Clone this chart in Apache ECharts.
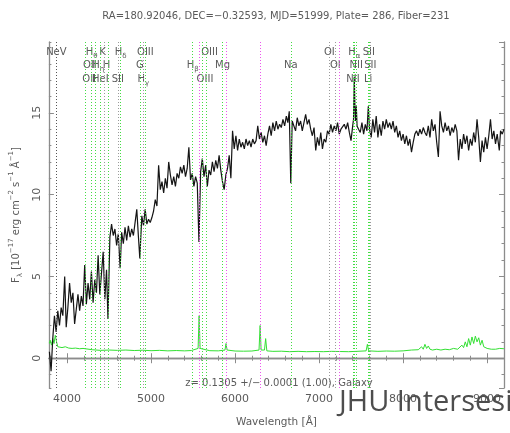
<!DOCTYPE html>
<html><head><meta charset="utf-8">
<script src="https://cdn.jsdelivr.net/npm/echarts@6/dist/echarts.min.js"></script>
<style>html,body{margin:0;padding:0;background:#fff}#c{width:510px;height:433px}</style>
</head><body><div id="c"></div>
<script>
const titleText = 'RA=180.92046, DEC=\u22120.32593, MJD=51999, Plate= 286, Fiber=231';
const redshiftText = 'z= 0.1305 +/\u2212 0.0001 (1.00), Galaxy';
const watermarkText = 'JHU Intersesion';
const xAxisName = 'Wavelength [\u00c5]';
const yAxisName = '{n|F}{s|\u03bb}{n| [10}{p|\u221217}{n| erg cm}{p|\u22122}{n| s}{p|\u22121}{n| \u00c5}{p|\u22121}{n|]}';
const redshift = 0.1305;
const waveMin = 3784, waveMax = 9201;
const fluxMin = -1.82, fluxMax = 19.33;

const wavelength = [3790,3810,3830,3850,3870,3890,3910,3930,3950,3972,3990,4010,4030,4050,4070,4090,4110,4130,4150,4170,4190,4210,4230,4250,4270,4290,4310,4330,4350,4370,4390,4410,4430,4450,4470,4487,4510,4530,4550,4570,4590,4610,4632,4650,4670,4690,4710,4730,4750,4770,4790,4810,4830,4850,4866,4890,4910,4930,4950,4970,4990,5010,5030,5050,5070,5090,5110,5130,5150,5170,5190,5210,5230,5250,5270,5290,5310,5330,5350,5370,5390,5410,5430,5450,5470,5490,5510,5530,5550,5570,5590,5610,5630,5650,5670,5690,5710,5730,5750,5770,5790,5810,5830,5850,5870,5890,5910,5930,5950,5970,5990,6010,6030,6050,6070,6090,6110,6130,6150,6170,6190,6210,6230,6250,6270,6290,6310,6330,6350,6370,6390,6410,6430,6450,6470,6490,6510,6530,6550,6570,6590,6610,6628,6645,6663,6680,6700,6720,6740,6760,6780,6800,6820,6840,6860,6880,6900,6920,6940,6960,6980,7000,7020,7040,7060,7080,7100,7120,7140,7160,7180,7200,7220,7240,7260,7280,7300,7320,7340,7360,7380,7400,7410,7419,7428,7435,7443,7452,7470,7490,7510,7530,7550,7570,7586,7600,7620,7640,7660,7680,7700,7720,7740,7760,7780,7800,7820,7840,7860,7880,7900,7920,7940,7960,7980,8000,8020,8040,8060,8080,8100,8120,8140,8160,8180,8200,8220,8240,8260,8280,8300,8320,8340,8360,8380,8400,8420,8440,8460,8480,8500,8520,8540,8560,8580,8600,8620,8640,8660,8680,8700,8720,8740,8760,8780,8800,8820,8840,8860,8880,8900,8920,8940,8960,8980,9000,9020,9040,9060,9080,9100,9120,9145,9160,9180,9200];
const flux = [0.4,-0.8,1.2,2.6,1.6,2.9,2.0,3.1,2.6,5.0,1.9,3.1,4.6,3.4,4.0,2.1,3.0,3.9,2.9,3.8,3.2,5.7,3.3,4.6,3.6,5.3,3.4,4.8,4.0,6.3,3.9,5.2,6.5,3.6,5.4,2.4,7.4,8.2,7.5,7.9,6.9,7.6,5.5,7.7,7.0,8.0,7.2,8.1,7.4,7.9,7.5,8.3,9.1,7.4,6.1,8.7,8.1,9.1,8.2,8.5,8.3,8.6,9.0,9.7,9.3,11.8,10.3,10.8,10.1,11.0,10.4,12.0,11.2,10.6,11.1,10.5,11.3,11.0,11.7,11.3,11.8,11.1,11.6,12.9,10.9,11.3,10.5,11.1,10.7,7.1,11.4,12.2,11.1,11.8,10.5,11.5,11.2,12.0,11.4,12.1,11.6,12.4,11.5,10.8,10.3,11.2,11.6,12.4,11.0,13.9,12.8,13.6,12.7,13.4,12.9,13.2,12.8,13.4,13.0,13.3,12.9,13.4,13.1,13.3,14.2,13.4,13.8,13.2,13.6,13.0,13.7,14.2,13.6,14.4,13.9,14.5,14.0,14.3,14.1,14.6,14.2,14.8,14.4,15.1,10.7,14.5,14.6,13.9,14.7,14.2,14.5,13.9,14.4,14.9,14.3,14.6,14.0,13.6,14.1,12.7,13.5,13.0,13.8,12.8,13.4,13.2,13.9,13.7,14.3,13.8,14.2,13.9,14.4,13.7,14.0,13.9,14.3,14.0,14.4,13.8,13.3,14.2,14.6,17.2,15.0,14.5,15.4,14.2,14.0,13.8,14.4,13.7,14.3,13.9,15.4,14.0,13.5,14.6,13.8,14.8,13.5,14.3,13.6,14.5,14.0,14.6,14.1,14.4,14.0,14.5,13.8,14.2,13.5,13.9,13.3,13.7,13.1,13.6,13.0,13.4,12.6,13.2,13.7,13.9,13.6,14.0,13.7,14.1,13.8,13.6,14.2,13.5,14.6,13.9,14.3,13.2,12.3,15.1,14.2,13.8,14.4,13.9,14.2,13.6,14.1,13.8,14.3,13.9,12.1,13.4,12.8,13.7,13.1,13.6,12.7,13.4,13.0,13.8,13.2,14.6,13.5,12.0,13.3,12.6,13.5,12.8,13.6,14.6,13.4,13.9,13.1,13.7,12.7,13.9,13.7,14.0];

const errWavelength = [3790,3800,3815,3830,3845,3860,3875,3890,3910,3940,3980,4020,4060,4100,4150,4190,4210,4300,4400,4500,4600,4700,4800,4900,5000,5100,5200,5300,5400,5480,5560,5572,5584,5600,5700,5800,5880,5892,5905,6000,6100,6200,6285,6298,6310,6350,6364,6378,6450,6550,6650,6750,6850,6950,7050,7150,7250,7350,7450,7560,7575,7590,7700,7800,7900,8000,8100,8180,8220,8240,8260,8280,8300,8320,8350,8400,8450,8500,8550,8600,8650,8700,8720,8740,8760,8780,8800,8820,8840,8860,8880,8900,8920,8940,8960,9000,9050,9100,9150,9200];
const errFlux = [0.9,1.1,0.8,1.2,0.9,1.4,1.0,0.7,0.75,0.65,0.7,0.62,0.6,0.62,0.58,0.6,0.5,0.52,0.48,0.5,0.48,0.5,0.47,0.49,0.46,0.48,0.45,0.47,0.45,0.47,0.6,2.6,0.6,0.48,0.46,0.45,0.5,0.9,0.5,0.44,0.43,0.44,0.5,2.0,0.5,0.5,1.2,0.45,0.42,0.43,0.4,0.42,0.4,0.41,0.4,0.42,0.41,0.4,0.42,0.45,0.85,0.45,0.42,0.44,0.43,0.45,0.5,0.52,0.7,0.55,0.85,0.6,0.75,0.55,0.5,0.55,0.5,0.55,0.52,0.6,0.55,0.8,0.65,1.0,0.7,1.2,0.8,1.3,0.9,1.35,1.0,1.25,0.8,1.1,0.7,0.6,0.55,0.55,0.6,0.58];

// spectral lines (rest wavelengths)
const lineNames = ['NeV','OII','OII','H{s|\u03b8}','H{s|\u03b7}','HeI','K','H','SII','H{s|\u03b4}','G','H{s|\u03b3}','OIII','H{s|\u03b2}','OIII','OIII','Mg','Na','OI','OI','NII','H{s|\u03b1}','NII','Li','SII','SII'];
const lineRest = [3425.9,3726.0,3728.8,3797.9,3835.4,3888.6,3933.7,3968.5,4072.3,4101.7,4304.4,4340.5,4363.2,4861.3,4958.9,5006.8,5175.3,5894.0,6300.3,6363.8,6548.1,6562.8,6583.4,6707.8,6716.4,6730.8];
const lineRow = [0,1,2,0,1,2,0,1,2,0,1,2,0,1,2,0,1,1,0,1,2,0,1,2,0,1];
const lineKind = ['n','e','e','e','e','e','a','e','a','e','e','a','e','e','e','e','e','e','a','a','e','e','e','e','e','a'];
const skyLines = [5577.3,5889.9,6300.3,7244.0];

const kindColor = {e:'#44dd44', a:'#9a9a9a', n:'#555555'};
const labelShift = {1:5, 2:4, 4:3, 6:-2, 7:-1.5, 14:3, 15:3};
const rowY = [10, 23, 37];
const G = {left:46, right:6, top:42, bottom:42};
const font = 'DejaVu Sans';
const txt = '#5a5a5a';
const frame = '#8c8c8c';

const fluxData = wavelength.map((w,i)=>[w, flux[i]]);
const errData = errWavelength.map((w,i)=>[w, errFlux[i]]);
const obs = lineRest.map(r => r*(1+redshift));

function wrap(name){
  return name.split(/(\{s\|[^}]*\})/).filter(Boolean).map(p => p.startsWith('{') ? p : '{n|'+p+'}').join('');
}
const rich = {
  n:{fontSize:10, fontFamily:font, lineHeight:16, verticalAlign:'middle', color:txt},
  s:{fontSize:7, fontFamily:font, verticalAlign:'bottom', color:txt},
  p:{fontSize:7, fontFamily:font, verticalAlign:'top', color:txt}
};
const plain = v => String(Math.round(v));

function xAx(pos, split, len, main){
  return {type:'value', position:pos, min:waveMin, max:waveMax, splitNumber:split,
    axisLine:{show:main, lineStyle:{color:frame, width:1.3}},
    axisTick:{show:true, inside:true, length:len, lineStyle:{color:frame, width:1}},
    axisLabel:{show:main && pos==='bottom', margin:6, fontSize:11, fontFamily:font, color:txt, showMinLabel:false, showMaxLabel:false, formatter:plain},
    splitLine:{show:false},
    name: (main && pos==='bottom') ? xAxisName : '', nameLocation:'middle', nameGap:29,
    nameTextStyle:{fontSize:10.5, fontFamily:font, color:txt}};
}
function yAx(pos, split, len, main){
  return {type:'value', position:pos, min:fluxMin, max:fluxMax, splitNumber:split,
    axisLine:{show:main, lineStyle:{color:frame, width:1.3}},
    axisTick:{show:true, inside:true, length:len, lineStyle:{color:frame, width:1}},
    axisLabel:{show:main && pos==='left', rotate:90, margin:6, fontSize:11, fontFamily:font, color:txt, showMinLabel:false, showMaxLabel:false, formatter:plain},
    splitLine:{show:false},
    name: (main && pos==='left') ? yAxisName : '', nameLocation:'middle', nameGap:22, nameRotate:90,
    nameTextStyle:{fontSize:10, fontFamily:font, color:txt, rich:rich}};
}

const chart = echarts.init(document.getElementById('c'), null, {renderer:'canvas'});
const markData = obs.map((w,i)=>({xAxis:w, lineStyle:{color:kindColor[lineKind[i]]}}))
  .concat(skyLines.map(w=>({xAxis:w, lineStyle:{color:'#ee55ee'}})));

chart.setOption({
  animation:false,
  backgroundColor:'#ffffff',
  grid:{left:G.left, right:G.right, top:G.top, bottom:G.bottom, containLabel:false},
  xAxis:[xAx('bottom',5,5,true), xAx('bottom',27,2.5,false), xAx('top',5,5,true), xAx('top',27,2.5,false)],
  yAxis:[yAx('left',4,5,true), yAx('left',21,2.5,false), yAx('right',4,5,true), yAx('right',21,2.5,false)],
  series:[
    {type:'line', xAxisIndex:0, yAxisIndex:0, data:[], silent:true,
     markLine:{silent:true, symbol:['none','none'], label:{show:false},
       lineStyle:{type:[1,2], width:1}, data:markData}, z:1},
    {type:'line', xAxisIndex:0, yAxisIndex:0, data:errData, showSymbol:false, silent:true,
     lineStyle:{color:'#33e033', width:1}, z:2},
    {type:'line', xAxisIndex:0, yAxisIndex:0, data:fluxData, showSymbol:false, silent:true,
     lineStyle:{color:'#151515', width:1.2}, z:3},
    {type:'custom', xAxisIndex:0, yAxisIndex:0, silent:true, z:4,
     data: obs.map((w,i)=>[w, i]),
     renderItem:(params, api)=>{
       const i = api.value(1);
       const x = api.coord([api.value(0), 0])[0] + (labelShift[i]||0);
       return {type:'text', style:{text:wrap(lineNames[i]), x:x, y:G.top+rowY[lineRow[i]],
         align:'center', verticalAlign:'middle', rich:rich, fontSize:10, fontFamily:font, fill:txt}};
     }}
  ],
  graphic:[
    {type:'text', x:276, y:16, style:{text:titleText, align:'center', verticalAlign:'middle', fontSize:10, fontFamily:font, fill:txt}},
    {type:'text', x:279, y:383, style:{text:redshiftText, align:'center', verticalAlign:'middle', fontSize:10, fontFamily:font, fill:txt}},
    {type:'text', x:339, y:403, z:100, style:{text:watermarkText, align:'left', verticalAlign:'middle', fontSize:29, fontFamily:'Open Sans', fill:'#4d4d4d'}}
  ]
});
</script></body></html>
